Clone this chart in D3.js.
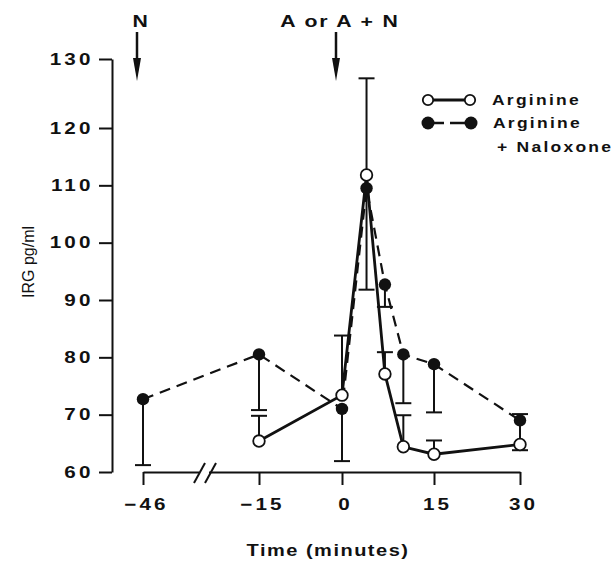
<!DOCTYPE html>
<html><head><meta charset="utf-8">
<script src="https://cdn.jsdelivr.net/npm/d3@7"></script>
<style>
html,body{margin:0;padding:0;background:#fff;}
svg{display:block;}
</style>
</head><body>
<svg id="chart" width="616" height="562"></svg>
<script>
// ---- data ----
const xTicks = [-46, -15, 0, 15, 30];
const yTicks = [60, 70, 80, 90, 100, 110, 120, 130];

const argTimes   = [-15, 0, 4, 7, 10, 15, 30];
const argValues  = [65.4, 73.4, 111.8, 77.1, 64.4, 63.1, 64.8];
const argErrUp   = [69.8, 83.8, 127.2, 80.9, 69.9, 65.5, null];
const argErrDown = [null, null, null, null, null, null, null];

const naxTimes   = [-46, -15, 0, 4, 7, 10, 15, 30];
const naxValues  = [72.7, 80.5, 71.0, 109.5, 92.7, 80.5, 78.8, 69.0];
const naxErrUp   = [null, null, null, null, null, null, null, 70.1];
const naxErrDown = [61.2, 70.8, 61.9, 91.8, 88.8, 72.0, 70.4, 63.8];

const annoTimes  = [-46, 0];
const annoLabels = ["N", "A or A + N"];

const legendLabels = ["Arginine", "Arginine", "+ Naloxone"];
const xTitle = "Time (minutes)";
const yTitle = "IRG pg/ml";

// ---- setup ----
const svg = d3.select("#chart");
const FONT = "'Liberation Sans', Arial, Helvetica, sans-serif";
const SX = 1.25;

const x = d3.scaleLinear().domain([-46, -15, 0, 15, 30]).range([143, 259, 342, 434, 520]);
const y = d3.scaleLinear().domain([60, 120, 130]).range([472, 128, 59]);

function wideText(parent, px, py, str, o) {
  const g = parent.append("g").attr("transform", `translate(${px},${py}) scale(${o.sx || SX},1)`);
  return g.append("text")
    .attr("text-anchor", o.anchor || "start")
    .attr("dominant-baseline", o.baseline || "auto")
    .style("font-family", FONT)
    .style("font-weight", o.weight || "bold")
    .style("font-size", (o.size || 15) + "px")
    .style("letter-spacing", (o.ls || 0) + "px")
    .attr("fill", "#111")
    .text(str);
}

// ---- axes ----
const yAxis = svg.append("g").attr("transform", "translate(112,0)")
  .call(d3.axisLeft(y).tickValues(yTicks).tickSize(13).tickSizeOuter(0).tickPadding(8).tickFormat(d3.format("d")));
yAxis.select(".domain").attr("stroke", "#111").attr("stroke-width", 2);
yAxis.selectAll(".tick line").attr("stroke", "#111").attr("stroke-width", 2);
yAxis.selectAll(".tick text")
  .attr("x", -21 / SX + 2)
  .attr("transform", `scale(${SX},1)`)
  .attr("fill", "#111")
  .style("font-family", FONT).style("font-weight", "bold").style("font-size", "16.5px")
  .style("letter-spacing", "2.5px");

const xAxis = svg.append("g").attr("transform", "translate(0,472)")
  .call(d3.axisBottom(x).tickValues(xTicks).tickSize(13).tickSizeOuter(0).tickPadding(13).tickFormat(d3.format("d")));
xAxis.select(".domain").attr("stroke", "#111").attr("stroke-width", 2);
xAxis.selectAll(".tick line").attr("stroke", "#111").attr("stroke-width", 2);
xAxis.selectAll(".tick text")
  .attr("fill", "#111")
  .attr("transform", `scale(${SX},1)`)
  .attr("x", 3 / SX)
  .style("font-family", FONT).style("font-weight", "bold").style("font-size", "16.5px")
  .style("letter-spacing", "2.5px")
  .style("text-anchor", "middle");

// axis break
const bx = (x(-46) + x(-15)) / 2 + 4;
svg.append("rect").attr("x", bx - 6).attr("y", 468).attr("width", 10).attr("height", 8).attr("fill", "#fff");
[-6, 5].forEach(o => {
  svg.append("line").attr("x1", bx + o - 5).attr("y1", 483).attr("x2", bx + o + 6).attr("y2", 463)
    .attr("stroke", "#111").attr("stroke-width", 2);
});

// titles
wideText(svg, 328, 556, xTitle, {anchor: "middle", size: 16, ls: 1.2});
svg.append("text")
  .attr("transform", "translate(34,262) rotate(-90)")
  .attr("text-anchor", "middle")
  .style("font-family", FONT).style("font-size", "16px").style("font-weight", "normal")
  .attr("fill", "#111")
  .text(yTitle);

// annotations
annoTimes.forEach((t, i) => {
  const ax = x(t) - 6;
  wideText(svg, x(t) - 2, 27, annoLabels[i], {anchor: "middle", size: 17, ls: 1.5});
  svg.append("line").attr("x1", ax).attr("x2", ax).attr("y1", 32).attr("y2", 62)
    .attr("stroke", "#111").attr("stroke-width", 2.5);
  svg.append("path").attr("d", `M${ax - 4},58 L${ax + 4},58 L${ax},81 Z`).attr("fill", "#111");
});

// ---- series ----
const arg = argTimes.map((t, i) => ({t, v: argValues[i], up: argErrUp[i], dn: argErrDown[i]}));
const nax = naxTimes.map((t, i) => ({t, v: naxValues[i], up: naxErrUp[i], dn: naxErrDown[i]}));

const line = d3.line().x(d => x(d.t)).y(d => y(d.v));

svg.append("path").datum(nax).attr("d", line)
  .attr("fill", "none").attr("stroke", "#111").attr("stroke-width", 2.2)
  .attr("stroke-dasharray", "11,7");
svg.append("path").datum(arg).attr("d", line)
  .attr("fill", "none").attr("stroke", "#111").attr("stroke-width", 2.8);

function errBars(data) {
  const g = svg.append("g").attr("stroke", "#111").attr("stroke-width", 2);
  data.forEach(d => {
    const cx = x(d.t);
    const top = d.up != null ? d.up : d.v;
    const bot = d.dn != null ? d.dn : d.v;
    if (top === bot) return;
    g.append("line").attr("x1", cx).attr("x2", cx).attr("y1", y(top)).attr("y2", y(bot));
    [d.up, d.dn].forEach(e => {
      if (e == null) return;
      g.append("line").attr("x1", cx - 8).attr("x2", cx + 8).attr("y1", y(e)).attr("y2", y(e));
    });
  });
}
errBars(nax);
errBars(arg);

svg.append("g").selectAll("circle").data(nax).join("circle")
  .attr("cx", d => x(d.t)).attr("cy", d => y(d.v)).attr("r", 6.2)
  .attr("fill", "#111");
svg.append("g").selectAll("circle").data(arg).join("circle")
  .attr("cx", d => x(d.t)).attr("cy", d => y(d.v)).attr("r", 5.8)
  .attr("fill", "#fff").attr("stroke", "#111").attr("stroke-width", 1.8);

// ---- legend ----
const lg = svg.append("g");
lg.append("line").attr("x1", 428).attr("x2", 470).attr("y1", 100).attr("y2", 100)
  .attr("stroke", "#111").attr("stroke-width", 2.8);
[428, 470].forEach(cx => lg.append("circle").attr("cx", cx).attr("cy", 100).attr("r", 5.2)
  .attr("fill", "#fff").attr("stroke", "#111").attr("stroke-width", 1.8));
lg.append("line").attr("x1", 428).attr("x2", 471).attr("y1", 123).attr("y2", 123)
  .attr("stroke", "#111").attr("stroke-width", 2.5).attr("stroke-dasharray", "16,6,30");
[428, 471].forEach(cx => lg.append("circle").attr("cx", cx).attr("cy", 123).attr("r", 6.5)
  .attr("fill", "#111"));
wideText(lg, 492, 100, legendLabels[0], {size: 14, ls: 1.8, baseline: "central"});
wideText(lg, 493, 123, legendLabels[1], {size: 14, ls: 1.8, baseline: "central"});
wideText(lg, 497, 147, legendLabels[2], {size: 14, ls: 1.8, baseline: "central"});
</script>
</body></html>
